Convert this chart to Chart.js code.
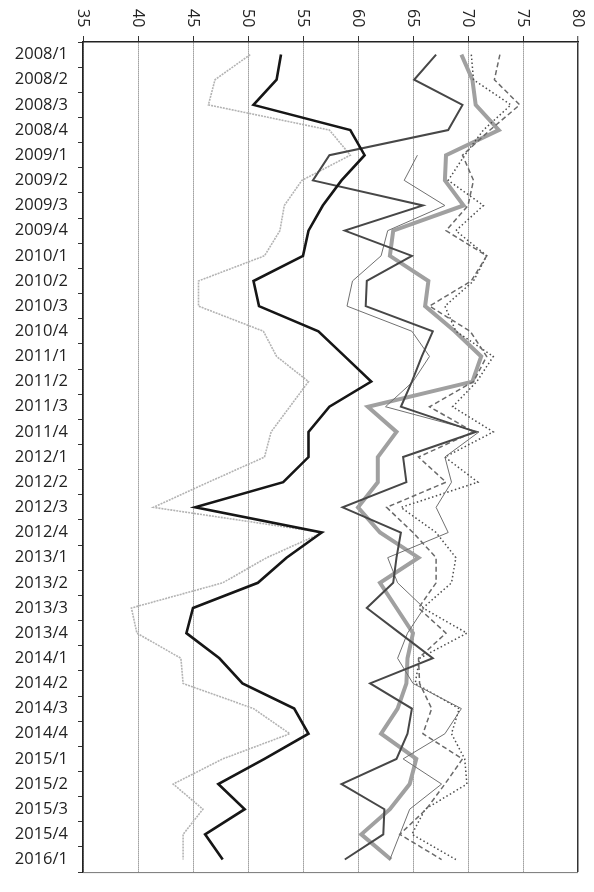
<!DOCTYPE html>
<html>
<head>
<meta charset="utf-8">
<script src="https://cdn.jsdelivr.net/npm/chart.js@4/dist/chart.umd.min.js"></script>
<style>
  html, body { margin: 0; padding: 0; background: #fff; }
  #wrap { width: 594px; height: 892px; }
</style>
</head>
<body>
<div id="wrap"><canvas id="chart"></canvas></div>
<script>
const quarters = ['2008/1','2008/2','2008/3','2008/4','2009/1','2009/2','2009/3','2009/4',
  '2010/1','2010/2','2010/3','2010/4','2011/1','2011/2','2011/3','2011/4',
  '2012/1','2012/2','2012/3','2012/4','2013/1','2013/2','2013/3','2013/4',
  '2014/1','2014/2','2014/3','2014/4','2015/1','2015/2','2015/3','2015/4','2016/1'];

const xTicks = [35, 40, 45, 50, 55, 60, 65, 70, 75, 80];

// black, thick
const seriesA = [53.0, 52.6, 50.5, 59.3, 60.6, 58.5, 56.8, 55.5, 55.0, 50.5, 51.0, 56.4, 58.8, 61.2, 57.4, 55.5,
  55.5, 53.2, 45.2, 56.7, 53.5, 50.9, 45.0, 44.4, 47.4, 49.5, 54.2, 55.5, 51.5, 47.3, 49.7, 46.1, 47.7];
// light grey, fine dots
const seriesB = [50.2, 47.0, 46.4, 57.4, 59.3, 54.9, 53.3, 52.9, 51.5, 45.5, 45.5, 51.4, 52.6, 55.5, 53.8, 52.1,
  51.5, 46.4, 41.4, 56.8, 51.7, 47.7, 39.4, 39.9, 43.9, 44.1, 50.5, 53.8, 47.7, 43.2, 45.9, 44.1, 44.1];
// dark grey, solid
const seriesC = [67.1, 65.1, 69.5, 68.2, 57.4, 55.9, 65.9, 58.8, 64.9, 60.8, 60.7, 66.8, 65.8, 64.9, 63.9, 70.7,
  64.1, 64.4, 58.6, 63.9, 63.5, 63.2, 60.8, 63.8, 66.8, 61.1, 64.9, 64.5, 63.5, 58.5, 62.4, 62.3, 58.8];
// thin grey, solid (starts 2009/1)
const seriesD = [null, null, null, null, 65.4, 64.2, 67.9, 62.7, 62.1, 59.5, 59.0, 64.9, 66.5, 65.0, 62.5, 71.0,
  67.9, 68.5, 67.1, 68.2, 62.7, 63.6, 66.0, 64.5, 63.6, 65.0, 69.4, 67.9, 64.1, 67.6, 64.7, 63.8, 62.9];
// wide light grey, solid
const seriesE = [69.4, 70.4, 70.7, 72.8, 68.0, 67.9, 69.6, 63.2, 62.9, 66.4, 66.1, 68.8, 71.2, 70.4, 60.9, 63.5,
  61.8, 61.8, 60.0, 62.0, 65.5, 62.0, 63.5, 65.0, 64.5, 64.4, 63.6, 62.1, 65.3, 64.7, 62.9, 60.3, 63.0];
// grey, dashed
const seriesF = [72.9, 72.4, 74.7, 72.0, 69.5, 70.5, 70.0, 68.0, 71.7, 70.3, 66.5, 70.2, 71.7, 70.5, 66.5, 70.5,
  65.5, 68.0, 62.6, 65.0, 67.1, 67.1, 65.5, 68.0, 65.5, 65.6, 66.7, 65.9, 69.5, 67.9, 66.2, 63.8, 67.6];
// dark grey, dotted
const seriesG = [70.3, 70.5, 73.9, 71.4, 69.7, 68.2, 71.4, 68.9, 71.7, 70.5, 67.9, 68.9, 72.3, 70.8, 68.6, 72.3,
  67.9, 70.9, 63.9, 67.1, 68.9, 68.5, 65.9, 69.9, 65.6, 65.2, 69.2, 68.5, 69.7, 69.9, 66.1, 64.9, 68.9];

const FONT = '"Open Sans", "DejaVu Sans", sans-serif';

function line(data, color, width, dash) {
  return {
    data: data,
    borderColor: color,
    borderWidth: width,
    borderDash: dash || [],
    pointRadius: 0,
    tension: 0,
    fill: false,
    spanGaps: false
  };
}

// top axis labels read downwards, so draw them turned clockwise
const topLabels = {
  id: 'topLabels',
  afterDraw(chart) {
    const ctx = chart.ctx;
    const xs = chart.scales.x;
    const area = chart.chartArea;
    ctx.save();
    ctx.fillStyle = '#222';
    ctx.font = '16px ' + FONT;
    ctx.textAlign = 'left';
    ctx.textBaseline = 'middle';
    for (const v of xTicks) {
      const px = xs.getPixelForValue(v);
      ctx.save();
      ctx.translate(px, 9);
      ctx.rotate(Math.PI / 2);
      ctx.fillText(String(v), 0, 0);
      ctx.restore();
    }
    // bottom edge of the frame
    ctx.strokeStyle = '#777';
    ctx.lineWidth = 1;
    ctx.beginPath();
    ctx.moveTo(area.left, area.bottom + 0.5);
    ctx.lineTo(area.right, area.bottom + 0.5);
    ctx.stroke();
    ctx.restore();
  }
};

new Chart(document.getElementById('chart'), {
  type: 'line',
  data: {
    labels: quarters,
    datasets: [
      line(seriesA, '#161616', 2.6),
      line(seriesC, '#474747', 2),
      line(seriesD, '#707070', 1),
      line(seriesF, '#6a6a6a', 1.5, [5, 3]),
      line(seriesG, '#4c4c4c', 1.5, [1.5, 2.5]),
      line(seriesB, '#b3b3b3', 1.6, [2, 1]),
      line(seriesE, '#a0a0a0', 4)
    ]
  },
  options: {
    indexAxis: 'y',
    responsive: true,
    maintainAspectRatio: false,
    animation: false,
    layout: { padding: { top: 0, right: 16, bottom: 5, left: 0 } },
    plugins: {
      legend: { display: false },
      title: { display: false },
      tooltip: { enabled: false }
    },
    scales: {
      x: {
        type: 'linear',
        position: 'top',
        min: 35,
        max: 80,
        afterBuildTicks: (scale) => { scale.ticks = xTicks.map(v => ({ value: v })); },
        afterFit: (scale) => { scale.height = 42; },
        ticks: { display: false },
        grid: {
          color: (c) => (c.tick && c.tick.value === 80 ? '#333' : '#666'),
          lineWidth: (c) => (c.tick && c.tick.value === 80 ? 1.5 : 1),
          tickColor: '#333',
          tickLength: 6,
          tickWidth: 1
        },
        border: {
          display: true,
          color: '#222',
          width: 1.6,
          dash: (c) => (c.tick && c.tick.value === 80 ? [] : [1, 1])
        }
      },
      y: {
        type: 'category',
        offset: true,
        afterFit: (scale) => { scale.width = 83; },
        ticks: {
          autoSkip: false,
          color: '#222',
          padding: 10,
          font: { family: FONT, size: 16.5 }
        },
        grid: {
          offset: true,
          drawOnChartArea: false,
          tickLength: 5,
          tickColor: '#333',
          tickWidth: 1
        },
        border: { display: true, color: '#222', width: 1.6 }
      }
    }
  },
  plugins: [topLabels]
});
</script>
</body>
</html>
